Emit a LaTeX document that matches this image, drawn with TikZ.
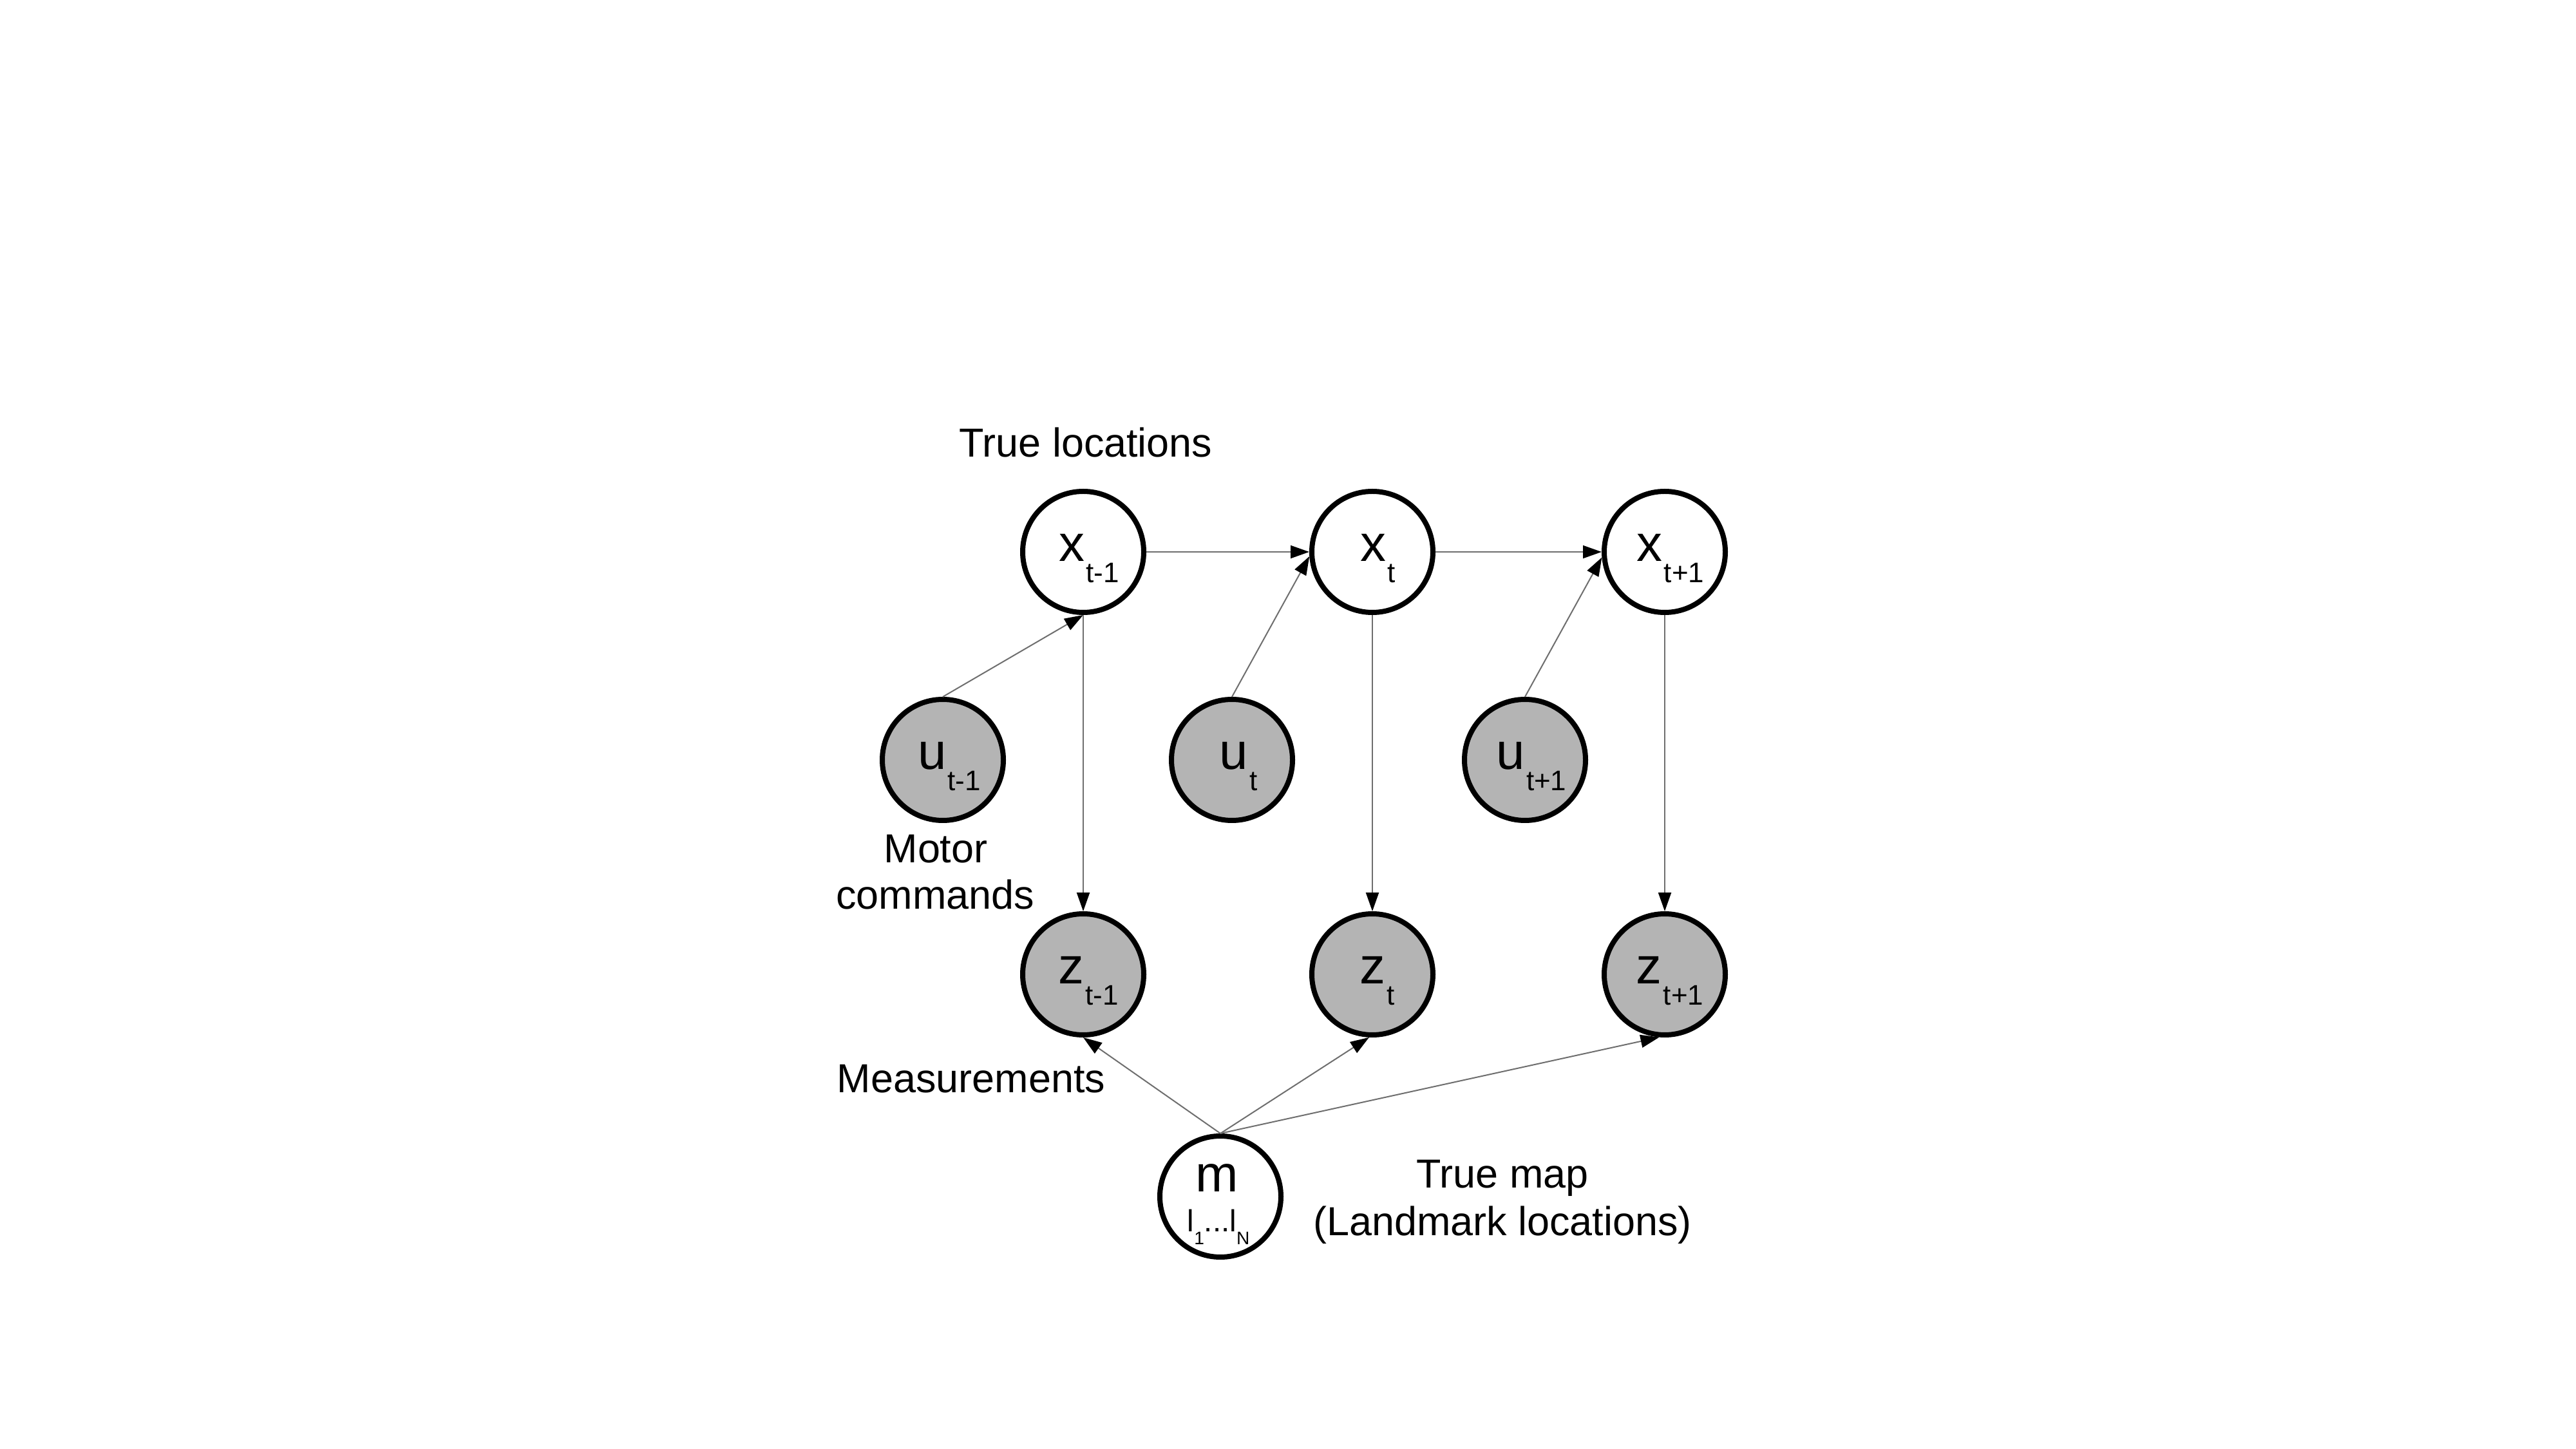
\documentclass[tikz,border=0pt]{standalone}
\usepackage{fontspec}
\setmainfont{Liberation Sans}
\usetikzlibrary{arrows.meta}
\definecolor{nodegray}{RGB}{180,180,180}
\definecolor{edgegray}{RGB}{110,110,110}
\newcommand\lblsub[2]{#1\kern0.02cm\raisebox{-0.33cm}{\fontsize{12.5pt}{13pt}\selectfont #2}}
\newcommand\lmsub[1]{\raisebox{-0.2cm}{\fontsize{8pt}{9pt}\selectfont #1}}
\begin{document}
\begin{tikzpicture}[
  varnode/.style={circle, draw=black, line width=0.08cm, minimum size=1.88cm, inner sep=0pt, fill=white},
  obsnode/.style={varnode, fill=nodegray},
  conn/.style={draw=edgegray, line width=0.02cm, -{Triangle[length=0.29cm,width=0.2cm,color=black]}},
  lettertxt/.style={font=\fontsize{22.7pt}{24pt}\selectfont, inner sep=0pt, anchor=base},
  mapidx/.style={font=\fontsize{13.5pt}{14pt}\selectfont, inner sep=0pt, anchor=base},
  captxt/.style={font=\fontsize{17.9pt}{20pt}\selectfont, inner sep=0pt, anchor=base},
]
\fill[white] (0,0) rectangle (40,-22.5);
\useasboundingbox (0,0) rectangle (40,-22.5);

% variable nodes
\node[varnode] (xt1)  at (16.82,-8.57) {};
\node[varnode] (xt)   at (21.31,-8.57) {};
\node[varnode] (xtp1) at (25.85,-8.57) {};
\node[obsnode] (ut1)  at (14.64,-11.80) {};
\node[obsnode] (ut)   at (19.13,-11.80) {};
\node[obsnode] (utp1) at (23.68,-11.80) {};
\node[obsnode] (zt1)  at (16.82,-15.13) {};
\node[obsnode] (zt)   at (21.31,-15.13) {};
\node[obsnode] (ztp1) at (25.85,-15.13) {};
\node[varnode] (m)    at (18.95,-18.58) {};

% labels inside circles
\node[lettertxt] (xt1l)  at ([shift={(0.09,-0.15)}]xt1.center)  {\lblsub{x}{t-1}};
\node[lettertxt] (xtl)   at ([shift={(0.09,-0.15)}]xt.center)   {\lblsub{x}{t}};
\node[lettertxt] (xtp1l) at ([shift={(0.09,-0.15)}]xtp1.center) {\lblsub{x}{t+1}};
\node[lettertxt] (ut1l)  at ([shift={(0.10,-0.15)}]ut1.center)  {\lblsub{u}{t-1}};
\node[lettertxt] (utl)   at ([shift={(0.10,-0.15)}]ut.center)   {\lblsub{u}{t}};
\node[lettertxt] (utp1l) at ([shift={(0.10,-0.15)}]utp1.center) {\lblsub{u}{t+1}};
\node[lettertxt] (zt1l)  at ([shift={(0.08,-0.15)}]zt1.center)  {\lblsub{z}{t-1}};
\node[lettertxt] (ztl)   at ([shift={(0.08,-0.15)}]zt.center)   {\lblsub{z}{t}};
\node[lettertxt] (ztp1l) at ([shift={(0.08,-0.15)}]ztp1.center) {\lblsub{z}{t+1}};
\node[lettertxt] (ml)    at ([shift={(-0.05,0.08)}]m.center) {m};
\node[mapidx] (mll) at ([shift={(-0.03,-0.54)}]m.center) {l\lmsub{1}...l\lmsub{N}};

% captions
\node[captxt] (tl)   at (16.86,-7.10) {True locations};
\node[captxt] (mot)  at (14.53,-13.40) {Motor};
\node[captxt] (cmd)  at (14.52,-14.12) {commands};
\node[captxt] (meas) at (15.08,-16.97) {Measurements};
\node[captxt] (tm)   at (23.33,-18.44) {True map};
\node[captxt] (lm)   at (23.33,-19.18) {(Landmark locations)};

% connectors
\draw[conn] (xt1) -- (xt);
\draw[conn] (xt) -- (xtp1);
\draw[conn] (ut1.north) -- (xt1.south);
\draw[conn] (ut.north) -- (xt.184);
\draw[conn] (utp1.north) -- (xtp1.185);
\draw[conn] (xt1) -- (zt1);
\draw[conn] (xt) -- (zt);
\draw[conn] (xtp1) -- (ztp1);
\draw[conn] (m.north) -- (zt1.south);
\draw[conn] (m.north) -- (zt.267);
\draw[conn] (m.north) -- (ztp1.265);
\end{tikzpicture}
\end{document}
